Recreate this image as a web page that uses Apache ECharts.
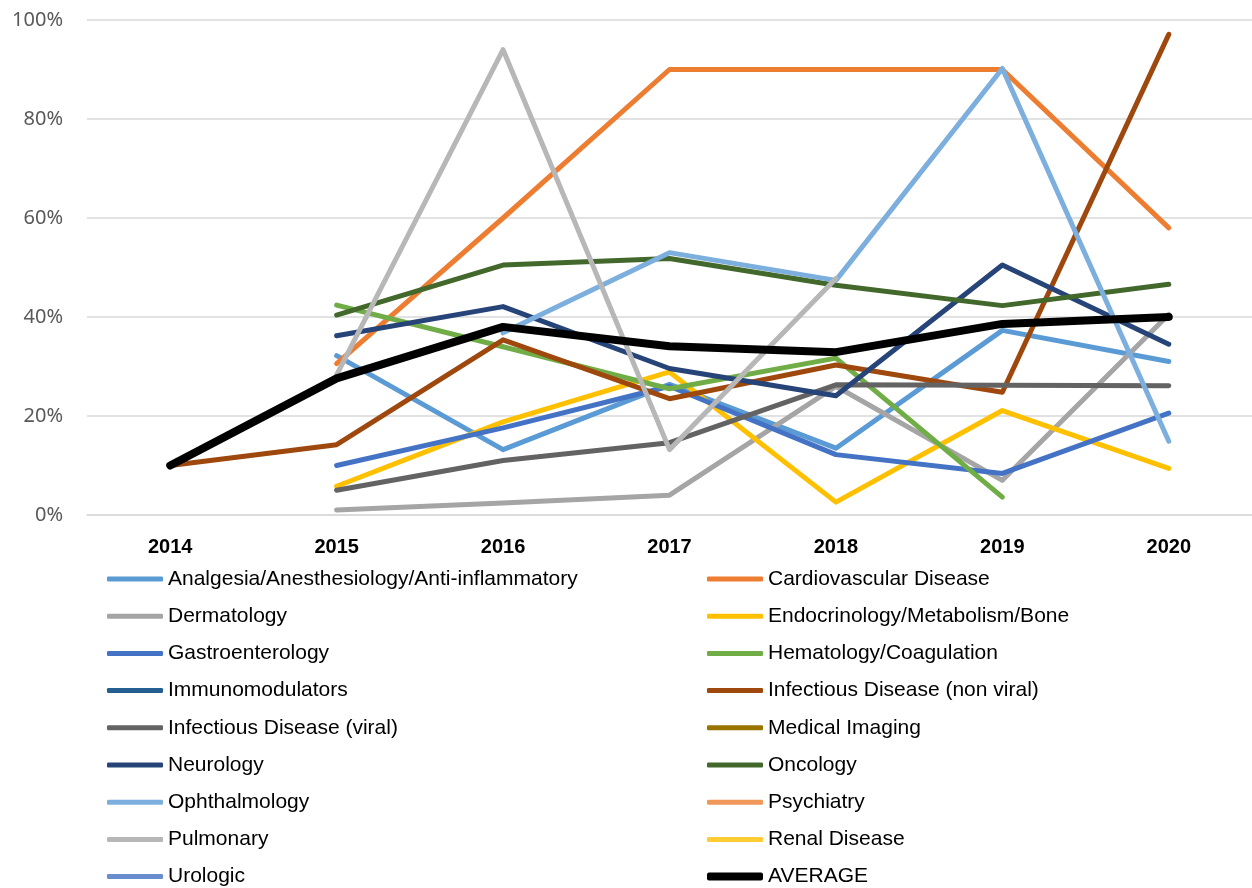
<!DOCTYPE html>
<html>
<head>
<meta charset="utf-8">
<script src="https://cdn.jsdelivr.net/npm/echarts@6/dist/echarts.min.js"></script>
<style>
html,body{margin:0;padding:0;background:#fff;}
#chart{width:1252px;height:888px;}
</style>
</head>
<body>
<div id="chart"></div>
<script>
const years = ['2014','2015','2016','2017','2018','2019','2020'];
const yTicks = [0, 20, 40, 60, 80, 100];

const analgesia   = [null, 32.2, 13.2, 26.4, 13.5, 37.3, 31.0];
const cardio      = [null, 30.6, 60.0, 90.0, 90.0, 90.0, 58.0];
const derm        = [null, 1.0, 2.4, 4.0, 26.0, 7.0, 40.5];
const endo        = [null, 5.8, 18.8, 28.9, 2.6, 21.1, 9.4];
const gastro      = [null, 10.0, 17.6, 26.0, 12.2, 8.4, 20.6];
const hema        = [null, 42.4, 34.0, 25.5, 31.7, 3.6, null];
const immuno      = [null, null, null, null, null, null, null];
const infNonViral = [10.0, 14.2, 35.4, 23.5, 30.3, 24.8, 97.1];
const infViral    = [null, 5.0, 11.0, 14.6, 26.3, 26.2, 26.1];
const medImaging  = [null, null, null, null, null, null, null];
const neuro       = [null, 36.2, 42.1, 29.6, 24.1, 50.5, 34.5];
const onc         = [null, 40.4, 50.5, 51.8, 46.4, 42.3, 46.6];
const ophth       = [null, null, 36.8, 53.0, 47.4, 90.2, 14.9];
const psych       = [null, null, null, null, null, null, null];
const pulm        = [null, 28.3, 94.0, 13.2, 47.8, null, null];
const renal       = [null, null, null, null, null, null, null];
const uro         = [null, null, null, null, null, null, null];
const average     = [10.0, 27.6, 38.0, 34.1, 32.9, 38.6, 40.0];

const seriesDefs = [
  ['Analgesia/Anesthesiology/Anti-inflammatory', analgesia, '#5B9BD5'],
  ['Cardiovascular Disease', cardio, '#ED7D31'],
  ['Dermatology', derm, '#A5A5A5'],
  ['Endocrinology/Metabolism/Bone', endo, '#FFC000'],
  ['Gastroenterology', gastro, '#4472C4'],
  ['Hematology/Coagulation', hema, '#70AD47'],
  ['Immunomodulators', immuno, '#255E91'],
  ['Infectious Disease (non viral)', infNonViral, '#9E480E'],
  ['Infectious Disease (viral)', infViral, '#636363'],
  ['Medical Imaging', medImaging, '#997300'],
  ['Neurology', neuro, '#264478'],
  ['Oncology', onc, '#43682B'],
  ['Ophthalmology', ophth, '#7CAFDD'],
  ['Psychiatry', psych, '#F1975A'],
  ['Pulmonary', pulm, '#B7B7B7'],
  ['Renal Disease', renal, '#FFCD33'],
  ['Urologic', uro, '#698ED0'],
  ['AVERAGE', average, '#000000']
];

const series = seriesDefs.map(([name, data, color]) => ({
  name: name,
  type: 'line',
  data: data,
  symbol: 'none',
  showSymbol: false,
  color: color,
  lineStyle: { color: color, width: name === 'AVERAGE' ? 8 : 5, cap: 'round', join: 'round' },
  itemStyle: { color: color },
  emphasis: { disabled: true },
  z: name === 'AVERAGE' ? 5 : 2
}));

const names = seriesDefs.map(d => d[0]);
const leftNames = names.filter((n, i) => i % 2 === 0);
const rightNames = names.filter((n, i) => i % 2 === 1 && n !== 'AVERAGE');

const rowTop = 568.5;
const rowPitch = 37.2;

const legendBase = {
  orient: 'vertical',
  top: rowTop,
  height: 340,
  padding: 0,
  icon: 'roundRect',
  itemWidth: 56,
  itemHeight: 5,
  itemGap: rowPitch - 21,
  selectedMode: false,
  textStyle: { fontFamily: 'Liberation Sans, Arial, sans-serif', fontSize: 21, color: '#000', lineHeight: 21 }
};

const chart = echarts.init(document.getElementById('chart'), null, { renderer: 'canvas' });
chart.setOption({
  animation: false,
  backgroundColor: '#fff',
  grid: { left: 87, right: 0, top: 20, bottom: 373, containLabel: false },
  legend: [
    Object.assign({}, legendBase, { left: 107, data: leftNames }),
    Object.assign({}, legendBase, { left: 707, data: rightNames }),
    Object.assign({}, legendBase, { left: 707, top: rowTop + 8 * rowPitch, height: 30, itemHeight: 8, data: ['AVERAGE'] })
  ],
  xAxis: {
    type: 'category',
    data: years,
    boundaryGap: true,
    axisLine: { show: true, lineStyle: { color: '#D9D9D9', width: 1.5 } },
    axisTick: { show: false },
    axisLabel: { margin: 22, fontFamily: 'Liberation Sans Narrow, Liberation Sans, Arial, sans-serif', fontWeight: 'bold', fontSize: 20, color: '#000' }
  },
  yAxis: {
    type: 'value',
    min: yTicks[0],
    max: yTicks[yTicks.length - 1],
    interval: 20,
    axisLine: { show: false },
    axisTick: { show: false },
    splitLine: { lineStyle: { color: '#D9D9D9', width: 1.5 } },
    axisLabel: { margin: 24, formatter: '{value}%', fontFamily: 'Noto Sans, Open Sans, sans-serif', fontSize: 20, color: '#595959' }
  },
  series: series
});
</script>
</body>
</html>
